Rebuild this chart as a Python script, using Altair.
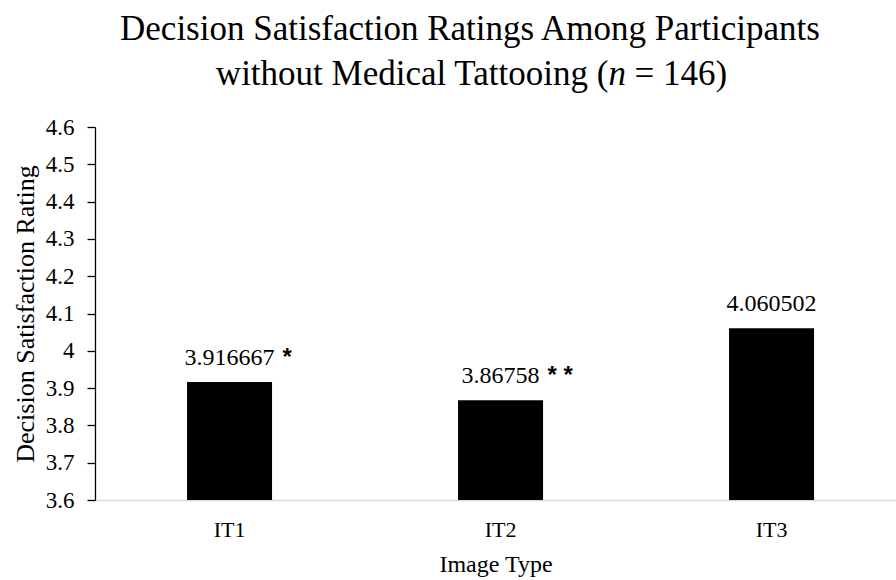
import altair as alt
import pandas as pd

# Mean decision satisfaction per image type
image_types = ["IT1", "IT2", "IT3"]
ratings = [3.916667, 3.86758, 4.060502]
value_labels = ["3.916667", "3.86758", "4.060502"]
significance = ["*", "* *", ""]

y_ticks = [3.6, 3.7, 3.8, 3.9, 4.0, 4.1, 4.2, 4.3, 4.4, 4.5, 4.6]

title_line1 = "Decision Satisfaction Ratings Among Participants"
title_line2_head = "without Medical Tattooing ("
title_line2_italic = "n"
title_line2_tail = "= 146)"

df = pd.DataFrame({
    "Image Type": image_types,
    "Rating": ratings,
    "label": value_labels,
    "sig": significance,
})

SERIF = "Liberation Serif"

x_axis = alt.Axis(
    title="Image Type",
    labelAngle=0,
    ticks=False,
    tickSize=0,
    labelPadding=19,
    domainColor="#d9d9d9",
    domainWidth=1.5,
    titleFontSize=24,
    titlePadding=12,
    labelFontSize=22,
)
y_axis = alt.Axis(
    title="Decision Satisfaction Rating",
    values=y_ticks,
    labelExpr="format(datum.value, '.1~f')",
    labelOverlap=False,
    grid=False,
    tickSize=8,
    tickColor="#000000",
    tickWidth=1.3,
    domainColor="#000000",
    domainWidth=1.3,
    labelPadding=13,
    labelFontSize=23,
    titleFontSize=26,
    titlePadding=7,
)

x_scale = alt.Scale(paddingInner=0.6863, paddingOuter=0.321, align=0.529)
y_scale = alt.Scale(domain=[3.6, 4.6], nice=False, zero=False)

x_enc = alt.X("Image Type:N", sort=image_types, scale=x_scale, axis=x_axis)
y_enc = alt.Y("Rating:Q", scale=y_scale, axis=y_axis)

bars = alt.Chart(df).mark_bar(color="#000000").encode(
    x=x_enc,
    y=y_enc,
    y2=alt.datum(3.6),
)

numbers = alt.Chart(df).mark_text(
    font=SERIF, fontSize=24, color="#000000", baseline="alphabetic", dy=-17
).encode(
    x=x_enc,
    y=y_enc,
    text="label:N",
)

# Significance markers sit just right of each number; the offset is measured
# from the band's left edge (half the band width plus half the number width).
stars = alt.Chart(df).transform_calculate(
    shift="length(datum.label) * 6 + 47.5"
).mark_text(
    font="Liberation Sans", fontSize=24, fontWeight="bold", color="#000000",
    baseline="alphabetic", align="left", dy=-17
).encode(
    x=x_enc,
    xOffset=alt.XOffset("shift:Q", scale=None),
    y=y_enc,
    text="sig:N",
)

title_df = pd.DataFrame({"t": [0]})
title_style = dict(font=SERIF, fontSize=35, color="#000000", baseline="alphabetic")

t1 = alt.Chart(title_df).mark_text(align="center", text=title_line1, **title_style).encode(
    x=alt.value(375), y=alt.value(-87)
)
t2a = alt.Chart(title_df).mark_text(align="right", text=title_line2_head, **title_style).encode(
    x=alt.value(513.4), y=alt.value(-42)
)
t2b = alt.Chart(title_df).mark_text(
    align="left", text=title_line2_italic, fontStyle="italic", **title_style
).encode(x=alt.value(513.4), y=alt.value(-42))
t2c = alt.Chart(title_df).mark_text(align="left", text=title_line2_tail, **title_style).encode(
    x=alt.value(539.6), y=alt.value(-42)
)

chart = alt.layer(bars, numbers, stars, t1, t2a, t2b, t2c).properties(
    width=801,
    height=373,
    padding={"left": 95, "top": 127, "right": 0, "bottom": 80},
    autosize=alt.AutoSizeParams(type="none"),
    background="#ffffff",
).configure_view(
    stroke=None
).configure_axis(
    labelFont=SERIF,
    titleFont=SERIF,
    labelColor="#000000",
    titleColor="#000000",
    titleFontWeight="normal",
)

chart.save("out.html", embed_options={"renderer": "svg", "actions": False})
